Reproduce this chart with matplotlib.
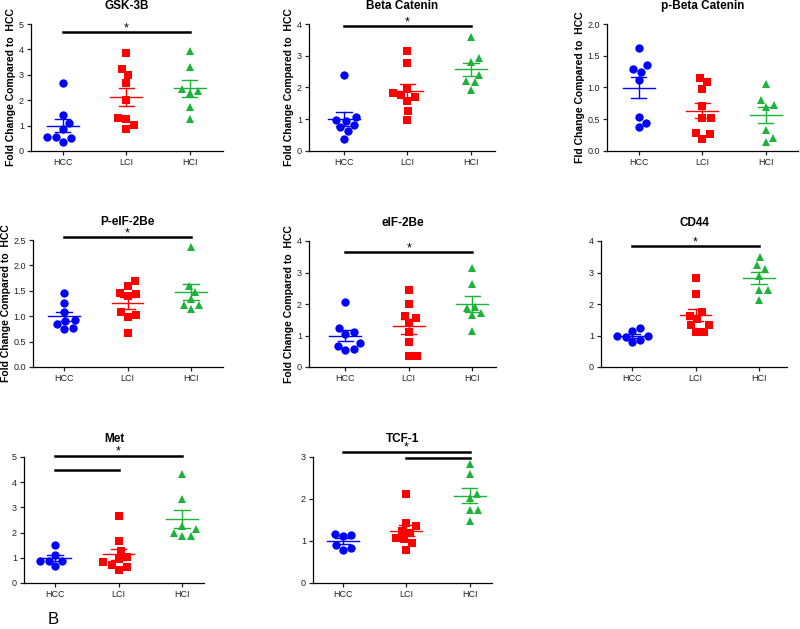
import numpy as np
import matplotlib.pyplot as plt

plt.rcParams['font.family'] = ['Liberation Sans', 'DejaVu Sans']

# groups and colours
groups = ['HCC', 'LCI', 'HCI']
colors = ['#0000FF', '#FF0000', '#1DB33A']
markers = ['o', 's', '^']

titles = ['GSK-3B', 'Beta Catenin', 'p-Beta Catenin', 'P-eIF-2Be', 'eIF-2Be', 'CD44', 'Met', 'TCF-1']
ylabels = ['Fold Change Compared to  HCC', 'Fold Change Compared to  HCC', 'Fld Change Compared to  HCC',
           'Fold Change Compared to  HCC', 'Fold Change Compared to  HCC', '', '', '']

# values (fold change)
gsk_hcc = [2.66, 1.42, 1.09, 0.88, 0.55, 0.55, 0.50, 0.36]
gsk_lci = [3.86, 3.22, 2.99, 2.66, 2.01, 1.29, 1.26, 1.03, 0.86]
gsk_hci = [3.92, 3.29, 2.45, 2.38, 2.28, 1.72, 1.26]

bcat_hcc = [2.39, 1.08, 0.98, 0.96, 0.82, 0.75, 0.63, 0.39]
bcat_lci = [3.16, 2.76, 1.95, 1.77, 1.82, 1.69, 1.59, 1.26, 0.99]
bcat_hci = [3.58, 2.92, 2.80, 2.40, 2.21, 2.17, 1.93]

pbcat_hcc = [1.62, 1.35, 1.29, 1.25, 1.12, 0.54, 0.44, 0.38]
pbcat_lci = [1.15, 1.09, 0.98, 0.71, 0.52, 0.52, 0.29, 0.26, 0.19]
pbcat_hci = [1.06, 0.81, 0.70, 0.73, 0.33, 0.20, 0.14]

peif_hcc = [1.46, 1.26, 1.09, 0.93, 0.91, 0.84, 0.77, 0.74]
peif_lci = [1.69, 1.59, 1.46, 1.39, 1.43, 1.03, 0.98, 1.09, 0.66]
peif_hci = [2.36, 1.59, 1.48, 1.33, 1.23, 1.23, 1.15]

eif_hcc = [2.05, 1.23, 1.10, 1.04, 0.68, 0.77, 0.53, 0.57]
eif_lci = [2.44, 1.99, 1.55, 1.63, 1.39, 1.11, 0.78, 0.35, 0.35]
eif_hci = [3.15, 2.65, 1.92, 1.86, 1.70, 1.65, 1.15]

cd44_hcc = [1.23, 1.15, 0.96, 0.99, 0.99, 0.86, 0.78]
cd44_lci = [2.83, 2.31, 1.63, 1.76, 1.52, 1.34, 1.34, 1.11, 1.11]
cd44_hci = [3.49, 3.23, 3.10, 2.89, 2.44, 2.44, 2.13]

met_hcc = [1.52, 1.12, 0.89, 0.89, 0.87, 0.66]
met_lci = [2.65, 1.68, 1.28, 1.03, 0.95, 0.73, 0.82, 0.65, 0.53]
met_hci = [4.34, 3.35, 2.28, 2.14, 1.98, 1.87, 1.87]

tcf_hcc = [1.15, 1.11, 1.17, 0.91, 0.79, 0.83]
tcf_lci = [2.12, 1.43, 1.35, 1.25, 1.19, 1.07, 1.05, 0.95, 0.79]
tcf_hci = [2.83, 2.60, 2.13, 2.03, 1.75, 1.75, 1.48]

panels = [
    [gsk_hcc, gsk_lci, gsk_hci],
    [bcat_hcc, bcat_lci, bcat_hci],
    [pbcat_hcc, pbcat_lci, pbcat_hci],
    [peif_hcc, peif_lci, peif_hci],
    [eif_hcc, eif_lci, eif_hci],
    [cd44_hcc, cd44_lci, cd44_hci],
    [met_hcc, met_lci, met_hci],
    [tcf_hcc, tcf_lci, tcf_hci],
]

# y axis max and tick step
ymaxs = [5, 4, 2, 2.5, 4, 4, 5, 3]
ysteps = [1, 1, 0.5, 0.5, 1, 1, 1, 1]

# significance bars: (from group, to group, height)
sig_bars = [
    [(0, 2, 4.68)],
    [(0, 2, 3.93)],
    [],
    [(0, 2, 2.55)],
    [(0, 2, 3.65)],
    [(0, 2, 3.84)],
    [(0, 2, 5.05), (0, 1, 4.5)],
    [(0, 2, 3.13), (1, 2, 2.98)],
]

# layout in pixels: left, top, bottom, xmin, xmax
W, H = 800, 629
UNIT = 63.5
layout = [
    (31, 24, 151, -0.5, 2.52),
    (309, 24, 151, -0.55, 2.38),
    (607, 24, 151, -0.5, 2.5),
    (33, 240, 367, -0.49, 2.5),
    (309, 241, 367, -0.57, 2.37),
    (601, 241, 367, -0.49, 2.44),
    (24, 457, 583, -0.49, 2.35),
    (313, 457, 583, -0.47, 2.35),
]


def swarm(vals, px_per_unit, d):
    # simple beeswarm: each point as close to centre as it can go without overlap
    vals = np.asarray(vals, dtype=float)
    offs = np.zeros(len(vals))
    placed = []
    for i in np.argsort(vals):
        y = vals[i] * px_per_unit
        cands = [0.0]
        for px, py in placed:
            dy = abs(y - py)
            if dy < d:
                dx = np.sqrt(d * d - dy * dy)
                cands += [px + dx, px - dx]
        cands.sort(key=abs)
        for c in cands:
            if all((c - px) ** 2 + (y - py) ** 2 >= d * d - 1e-6 for px, py in placed):
                break
        offs[i] = c
        placed.append((c, y))
    return offs


fig = plt.figure(figsize=(8, 6.29), dpi=100)

for k in range(8):
    left, top, bottom, xmin, xmax = layout[k]
    width = (xmax - xmin) * UNIT
    ax = fig.add_axes([left / W, 1 - bottom / H, width / W, (bottom - top) / H])
    ymax = ymaxs[k]
    px_per_unit = (bottom - top) / ymax

    for g in range(3):
        vals = np.array(panels[k][g])
        xs = g + swarm(vals, px_per_unit, 8.6) / UNIT
        ms = 5.6 if markers[g] == 's' else 6
        ax.plot(xs, vals, linestyle='none', marker=markers[g], color=colors[g],
                markersize=ms, markeredgewidth=0, zorder=2)
        m = vals.mean()
        sem = vals.std(ddof=1) / np.sqrt(len(vals))
        ax.plot([g - 0.25, g + 0.25], [m, m], color=colors[g], lw=1, zorder=3)
        ax.plot([g, g], [m - sem, m + sem], color=colors[g], lw=1, zorder=3)
        for yy in (m - sem, m + sem):
            ax.plot([g - 0.12, g + 0.12], [yy, yy], color=colors[g], lw=1, zorder=3)

    for a, b, h in sig_bars[k]:
        ax.plot([a, b], [h, h], color='black', lw=1.8, clip_on=False, zorder=4)
    if sig_bars[k]:
        top_h = max(h for _, _, h in sig_bars[k])
        ax.annotate('*', xy=(1, top_h), xytext=(0, -1.5), textcoords='offset points',
                    ha='center', va='bottom', fontsize=9, annotation_clip=False)

    ax.set_xlim(xmin, xmax)
    ax.set_ylim(0, ymax)
    ax.set_xticks([0, 1, 2])
    ax.set_xticklabels(groups)
    yt = np.arange(0, ymax + 1e-9, ysteps[k])
    ax.set_yticks(yt)
    if ysteps[k] < 1:
        ax.set_yticklabels([f'{v:.1f}' for v in yt])
    else:
        ax.set_yticklabels([f'{v:.0f}' for v in yt])
    for s in ('top', 'right'):
        ax.spines[s].set_visible(False)
    for s in ('left', 'bottom'):
        ax.spines[s].set_linewidth(0.9)
    ax.tick_params(length=3, width=0.9, labelsize=6.5, pad=2, colors='#222222')
    ax.set_title(titles[k], fontsize=8.5, fontweight='bold', pad=11)
    if ylabels[k]:
        ax.set_ylabel(ylabels[k], fontsize=7.5, fontweight='bold', labelpad=2)

fig.text(53 / W, 1 - 620 / H, 'B', fontsize=12, ha='center', va='center')

fig.savefig('out.png', dpi=100)
